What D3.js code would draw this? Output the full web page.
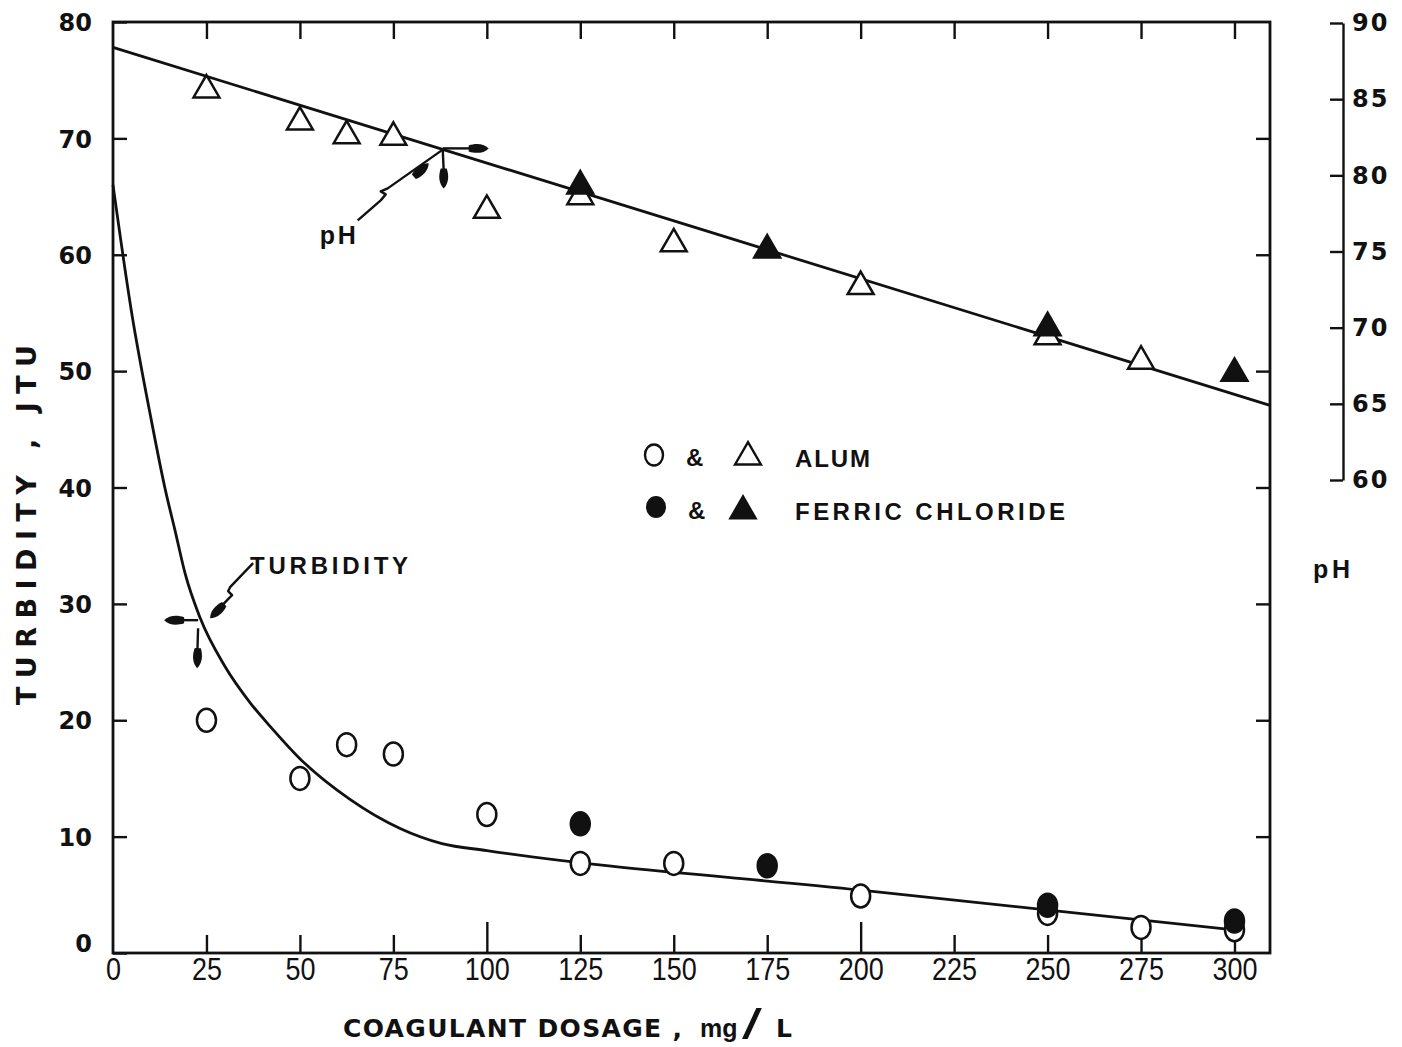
<!DOCTYPE html>
<html><head><meta charset="utf-8">
<script src="https://cdn.jsdelivr.net/npm/d3@7"></script>
<style>
html,body{margin:0;padding:0;background:#fff;}
svg{display:block;}
text{fill:#111;}
</style></head>
<body>
<svg id="chart" width="1402" height="1047"></svg>
<script>
// ---------- data ----------
const dosageTicks = [0,25,50,75,100,125,150,175,200,225,250,275,300];
const turbidityTicks = [0,10,20,30,40,50,60,70,80];
const pHTicks = [60,65,70,75,80,85,90];

const alumTurbDose = [25,50,62.5,75,100,125,150,200,250,275,300];
const alumTurbidity = [20.0,15.0,17.9,17.1,11.9,7.7,7.7,4.9,3.4,2.2,2.0];
const ferricTurbDose = [125,175,250,300];
const ferricTurbidity = [11.1,7.5,4.1,2.75];

const alumPHDose = [25,50,62.5,75,100,125,150,200,250,275];
const alumPH = [85.6,83.5,82.6,82.5,77.7,78.6,75.5,72.7,69.4,67.8];
const ferricPHDose = [125,175,250,300];
const ferricPH = [79.3,75.1,70.0,67.0];

// fitted curves
const turbCurveDose = [0,5,10,14,16.6,19.3,23.3,30,36.7,42.8,50,63.4,76.8,88,100,200,301];
const turbCurveValue = [66,55,46.2,39.8,36.3,32.6,28.8,24.6,21.5,19.2,16.7,13.2,10.7,9.4,8.8,5.4,1.95];
const pHLineDose = [0,309.5];
const pHLineValue = [88.4,64.9];

// ---------- scales ----------
const x = d3.scaleLinear().domain([0,309.5]).range([113,1270]);
const yT = d3.scaleLinear().domain([0,80]).range([953,22]);
const yP = d3.scaleLinear().domain([60,90]).range([480,23]);

const svg = d3.select("#chart");
const INK = "#111";
const LIB = '"Liberation Sans", Arial, sans-serif';
const DJV = '"DejaVu Sans", sans-serif';

function styleAxis(g, sw){
  g.selectAll("line").attr("stroke",INK).attr("stroke-width",sw);
  g.selectAll("path.domain").attr("stroke",INK).attr("stroke-width",sw);
}
function txt(sel, family, size, weight){
  return sel.style("font-family",family).style("font-size",size+"px").style("font-weight",weight||"normal").style("fill",INK);
}

// frame
svg.append("rect").attr("x",x(0)).attr("y",yT(80))
  .attr("width",x(309.5)-x(0)).attr("height",yT(0)-yT(80))
  .attr("fill","none").attr("stroke",INK).attr("stroke-width",2.8);

// left axis (labels + inward ticks)
const gl = svg.append("g").attr("transform",`translate(${x(0)},0)`)
  .call(d3.axisLeft(yT).tickValues(turbidityTicks).tickSize(-14).tickPadding(21).tickSizeOuter(0));
gl.select(".domain").remove();
styleAxis(gl,2.4);
txt(gl.selectAll("text"), DJV, 24, "bold")
  .attr("dy", d=> d===0 ? "-0.05em" : "0.36em");

// right frame inward ticks
const gr = svg.append("g").attr("transform",`translate(${x(309.5)},0)`)
  .call(d3.axisRight(yT).tickValues(turbidityTicks.slice(1,8)).tickSize(-14).tickFormat(""));
gr.select(".domain").remove(); styleAxis(gr,2.4);

// top frame inward ticks
const gt = svg.append("g").attr("transform",`translate(0,${yT(80)})`)
  .call(d3.axisTop(x).tickValues(dosageTicks.slice(1)).tickSize(-17).tickFormat(""));
gt.select(".domain").remove(); styleAxis(gt,2.4);

// bottom axis (labels + inward ticks)
const gb = svg.append("g").attr("transform",`translate(0,${yT(0)})`)
  .call(d3.axisBottom(x).tickValues(dosageTicks).tickSize(-18).tickPadding(5).tickSizeOuter(0));
gb.select(".domain").remove(); styleAxis(gb,2.4);
gb.selectAll(".tick line").filter(d=>d===0).remove();
gb.selectAll(".tick line").filter(d=>d===100||d===200).attr("y2",-31);
txt(gb.selectAll("text"), LIB, 31, "normal").attr("transform","scale(0.87,1)");

// pH axis on the right
const gp = svg.append("g").attr("transform","translate(1343,0)")
  .call(d3.axisRight(yP).tickValues(pHTicks).tickSize(-13).tickPadding(9).tickSizeOuter(0));
styleAxis(gp,2.4);
txt(gp.selectAll("text"), DJV, 24, "bold").attr("letter-spacing",2);

// ---------- curves ----------
const turbLine = d3.line().x(d=>x(d[0])).y(d=>yT(d[1])).curve(d3.curveMonotoneX);
svg.append("path").datum(d3.zip(turbCurveDose,turbCurveValue)).attr("d",turbLine)
  .attr("fill","none").attr("stroke",INK).attr("stroke-width",2.8);

const phLine = d3.line().x(d=>x(d[0])).y(d=>yP(d[1]));
svg.append("path").datum(d3.zip(pHLineDose,pHLineValue)).attr("d",phLine)
  .attr("fill","none").attr("stroke",INK).attr("stroke-width",2.8);

// ---------- markers ----------
const tri = d3.symbol().type(d3.symbolTriangle).size(290);
function drawCircles(dose, vals, filled){
  svg.append("g").selectAll("ellipse").data(d3.zip(dose,vals)).join("ellipse")
    .attr("cx",d=>x(d[0])).attr("cy",d=>yT(d[1])).attr("rx",9.5).attr("ry",11.5)
    .attr("fill",filled?INK:"#fff").attr("stroke",INK).attr("stroke-width",2.5);
}
function drawTriangles(dose, vals, filled){
  svg.append("g").selectAll("path").data(d3.zip(dose,vals)).join("path")
    .attr("d",tri).attr("transform",d=>`translate(${x(d[0])},${yP(d[1])})`)
    .attr("fill",filled?INK:"#fff").attr("stroke",INK).attr("stroke-width",2.5)
    .attr("stroke-linejoin","miter");
}
drawCircles(alumTurbDose, alumTurbidity, false);
drawCircles(ferricTurbDose, ferricTurbidity, true);
drawTriangles(alumPHDose, alumPH, false);
drawTriangles(ferricPHDose, ferricPH, true);

// ---------- annotations ----------
function head(px,py,angleDeg){
  svg.append("path")
    .attr("d","M0,0 C-5,-5 -13,-5.5 -20,-3 L-20,3 C-13,5.5 -5,5 0,0Z")
    .attr("transform",`translate(${px},${py}) rotate(${angleDeg})`)
    .attr("fill",INK);
}
function poly(pts,sw){
  svg.append("path").attr("d",d3.line()(pts)).attr("fill","none")
    .attr("stroke",INK).attr("stroke-width",sw||2.4).attr("stroke-linejoin","round");
}
// turbidity pointer
const A = [x(23.3), yT(28.6)];
poly([[A[0]+53,A[1]-57],[A[0]+30,A[1]-33],[A[0]+28,A[1]-29],[A[0]+32,A[1]-25],[A[0]+28,A[1]-21],[A[0]+12,A[1]-4]]);
head(A[0]+10,A[1]-2,135);
poly([[A[0]-2,A[1]],[A[0]-30,A[1]]]);
head(A[0]-36,A[1],180);
poly([[A[0]-2,A[1]+8],[A[0]-3,A[1]+40]]);
head(A[0]-3,A[1]+48,92);
txt(svg.append("text"), LIB, 24, "bold").attr("x",A[0]+50).attr("y",A[1]-46)
  .attr("textLength",158).attr("lengthAdjust","spacing").text("TURBIDITY");

// pH pointer
const B = [x(88.2), yP(88.4 + (64.9-88.4)*88.2/309.5)];
poly([[B[0]-85,B[1]+71],[B[0]-62,B[1]+51],[B[0]-57,B[1]+45],[B[0]-62,B[1]+42],[B[0]-55,B[1]+39],[B[0]-1,B[1]+1]]);
head(B[0]-14,B[1]+14,-42);
poly([[B[0],B[1]-1],[B[0]+30,B[1]-1]]);
head(B[0]+46,B[1]-1,0);
poly([[B[0],B[1]],[B[0]+1,B[1]+22]]);
head(B[0]+1,B[1]+39,90);
txt(svg.append("text"), LIB, 25, "bold").attr("x",B[0]-123).attr("y",B[1]+95)
  .attr("textLength",36).attr("lengthAdjust","spacing").text("pH");

// ---------- legend ----------
const leg = svg.append("g");
leg.append("ellipse").attr("cx",654).attr("cy",455).attr("rx",9).attr("ry",10.5)
  .attr("fill","#fff").attr("stroke",INK).attr("stroke-width",2.4);
txt(leg.append("text"), LIB, 24, "bold").attr("x",686).attr("y",466).text("&");
leg.append("path").attr("d",tri).attr("transform","translate(748,457)")
  .attr("fill","#fff").attr("stroke",INK).attr("stroke-width",2.4);
txt(leg.append("text"), LIB, 24, "bold").attr("x",795).attr("y",467)
  .attr("textLength",75).attr("lengthAdjust","spacing").text("ALUM");
leg.append("ellipse").attr("cx",656).attr("cy",507).attr("rx",10).attr("ry",11)
  .attr("fill",INK);
txt(leg.append("text"), LIB, 24, "bold").attr("x",688).attr("y",519).text("&");
leg.append("path").attr("d",tri).attr("transform","translate(743,511)")
  .attr("fill",INK).attr("stroke",INK).attr("stroke-width",2);
txt(leg.append("text"), LIB, 24, "bold").attr("x",795).attr("y",520)
  .attr("textLength",270).attr("lengthAdjust","spacing").text("FERRIC CHLORIDE");

// ---------- axis titles ----------
txt(svg.append("text"), DJV, 27, "bold").attr("transform","translate(36,525) rotate(-90)")
  .attr("text-anchor","middle")
  .attr("textLength",360).attr("lengthAdjust","spacing").text("TURBIDITY , JTU");
txt(svg.append("text"), DJV, 25, "bold").attr("x",343).attr("y",1037)
  .attr("textLength",339).attr("lengthAdjust","spacing").text("COAGULANT DOSAGE ,");
txt(svg.append("text"), LIB, 25, "bold").attr("x",700).attr("y",1037).text("mg");
txt(svg.append("text"), LIB, 42, "normal").attr("transform","translate(742,1039) scale(1.7,1)").text("/");
txt(svg.append("text"), DJV, 25, "bold").attr("x",776).attr("y",1037).text("L");
txt(svg.append("text"), LIB, 25, "bold").attr("x",1313).attr("y",578)
  .attr("textLength",37).attr("lengthAdjust","spacing").text("pH");
</script>
</body></html>
